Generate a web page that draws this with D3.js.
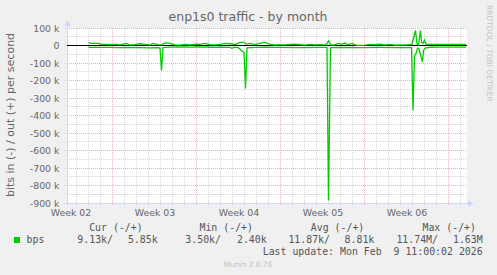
<!DOCTYPE html>
<html><head><meta charset="utf-8">
<script src="https://cdn.jsdelivr.net/npm/d3@7"></script>
<style>
body{margin:0;background:#F0F0F0;}
svg{display:block}
</style>
</head><body>
<svg id="c" width="497" height="275"></svg>
<script>
// ---------- data ----------
const title = "enp1s0 traffic - by month";
const yLabel = "bits in (-) / out (+) per second";
const yTicks = [100, 0, -100, -200, -300, -400, -500, -600, -700, -800, -900];
const weekLabels = ["Week 02", "Week 03", "Week 04", "Week 05", "Week 06"];
const domainStart = "2026-01-07T05:00:00Z";
const domainEnd = "2026-02-09T13:00:00Z";
const dataStart = "2026-01-09T00:00:00Z";

// hours after dataStart, values in kbit/s
const outHours = [0, 6, 21, 23, 55, 63, 76, 83, 93, 103, 113, 123, 129, 139, 146, 153, 163, 173, 183, 193, 203, 215, 223, 233, 243, 253, 263, 273, 283, 293, 303, 311, 315, 323, 333, 343, 353, 363, 373, 383, 393, 403, 413, 423, 433, 443, 453, 463, 475, 480, 485, 493, 499, 507, 513, 519, 527, 535, 543, 553, 563, 573, 583, 593, 603, 613, 623, 633, 643, 647, 650, 654, 657, 660, 664, 666, 669, 672, 675, 683, 703, 723, 743, 755];
const outVals  = [17, 12, 12, 7, 7, 4, 12, 3, 5, 10, 6, 3, 12, 5, 4, 15, 12, 4, 2, 6, 4, 7, 6, 12, 5, 4, 6, 12, 10, 5, 18, 18, 8, 12, 5, 14, 18, 6, 3, 5, 4, 6, 7, 5, 2, 6, 4, 5, 4, 26, 3, 4, 12, 8, 14, 4, 12, 2, 1, 2, 6, 5, 7, 3, 6, 2, 4, 3, 5, 8, 40, 86, 10, 2, 86, 20, 12, 30, 8, 7, 7, 7, 6, 6];

const inHours = [0, 23, 43, 61, 83, 103, 123, 139, 143, 146, 149, 163, 183, 203, 223, 243, 263, 283, 287, 291, 299, 305, 311, 314, 317, 333, 353, 383, 423, 463, 477, 480, 484, 503, 543, 583, 623, 646, 649, 652, 655, 658, 661, 668, 670, 673, 683, 703, 723, 755];
const inVals  = [11, 11, 11, 12, 11, 12, 13, 12, 14, 143, 12, 9, 8, 9, 8, 10, 10, 11, 16, 11, 11, 26, 40, 246, 14, 11, 10, 11, 12, 11, 11, 886, 12, 11, 12, 11, 12, 12, 371, 60, 45, 15, 20, 95, 30, 15, 10, 9, 9, 9];

const seriesName = "bps";
const legendHeaders = ["Cur (-/+)", "Min (-/+)", "Avg (-/+)", "Max (-/+)"];
const legendIn  = ["9.13k/", "3.50k/", "11.87k/", "11.74M/"];
const legendOut = ["5.85k", "2.40k", "8.81k", "1.63M"];
const lastUpdate = "Last update: Mon Feb  9 11:00:02 2026";
const footer = "Munin 2.0.76";
const watermark = "RRDTOOL / TOBI OETIKER";

// ---------- drawing ----------
const svg = d3.select("#c");
const L = 67, R = 467, T = 28, B = 203;
const green = "#00CC00", fontCol = "#666666", axisCol = "#CFD6F8";
const minorCol = "#d6d6d6", majorCol = "#eeb0b0";

svg.append("rect").attr("width", 497).attr("height", 275).attr("fill", "#F0F0F0");
svg.append("rect").attr("x", L).attr("y", T).attr("width", R - L).attr("height", B - T).attr("fill", "#FFFFFF");

const x = d3.scaleUtc().domain([new Date(domainStart), new Date(domainEnd)]).range([L, R]);
const y = d3.scaleLinear().domain([-900, 100]).range([B, T]);
const px = v => Math.floor(v) + 0.5;

// horizontal grid
const minorY = d3.range(-850, 100, 100);
const g = svg.append("g");
g.selectAll(".hm").data(minorY).join("line")
  .attr("x1", L - 2).attr("x2", R).attr("y1", d => px(y(d))).attr("y2", d => px(y(d)))
  .attr("stroke", minorCol).attr("stroke-dasharray", "1,1");
g.selectAll(".hM").data(yTicks).join("line")
  .attr("x1", L - 2).attr("x2", R).attr("y1", d => px(y(d))).attr("y2", d => px(y(d)))
  .attr("stroke", majorCol).attr("stroke-dasharray", "1,1");

// vertical grid
const days = d3.utcDay.range(x.domain()[0], x.domain()[1]).filter(d => d.getUTCDay() !== 0 && x(d) > L);
const sundays = d3.utcSunday.range(x.domain()[0], x.domain()[1]);
g.selectAll(".vm").data(days).join("line")
  .attr("x1", d => x(d)).attr("x2", d => x(d)).attr("y1", T).attr("y2", B + 2)
  .attr("stroke", minorCol).attr("stroke-dasharray", "1,1");
g.selectAll(".vM").data(sundays).join("line")
  .attr("x1", d => x(d)).attr("x2", d => x(d)).attr("y1", T).attr("y2", B + 3)
  .attr("stroke", majorCol).attr("stroke-dasharray", "1,1");

// y tick labels via axis
const yAxis = d3.axisLeft(y).tickValues(yTicks).tickSize(0).tickPadding(0)
  .tickFormat(v => v === 0 ? "0" : v + " k");
const ya = svg.append("g").attr("transform", `translate(${L - 7.5},0)`).call(yAxis);
ya.select(".domain").remove();
ya.selectAll("text").attr("font-family", "DejaVu Sans").attr("font-size", 9.4).attr("fill", fontCol);

// x labels (centered mid-week)
const labelDates = sundays.map(d => d3.utcHour.offset(d, -84));
const xAxis = d3.axisBottom(x).tickValues(labelDates).tickSize(0).tickPadding(0)
  .tickFormat((d, i) => weekLabels[i]);
const xa = svg.append("g").attr("transform", `translate(0,${B + 6})`).call(xAxis);
xa.select(".domain").remove();
xa.selectAll("text").attr("font-family", "DejaVu Sans").attr("font-size", 9.4).attr("fill", fontCol).attr("dy", "0.71em");

// axes lines + arrows
svg.append("line").attr("x1", L - 3).attr("x2", 470).attr("y1", B + 0.5).attr("y2", B + 0.5).attr("stroke", axisCol);
svg.append("line").attr("x1", L + 0.5).attr("x2", L + 0.5).attr("y1", B + 3).attr("y2", 24).attr("stroke", axisCol);
svg.append("path").attr("d", `M468,200 L473.5,203.5 L468,207 Z`).attr("fill", axisCol);
svg.append("path").attr("d", `M64,26 L67.5,20.5 L71,26 Z`).attr("fill", axisCol);

// zero line
svg.append("line").attr("x1", L).attr("x2", R).attr("y1", px(y(0))).attr("y2", px(y(0))).attr("stroke", "#000");

// series
const t0 = new Date(dataStart);
const outData = outHours.map((h, i) => ({t: d3.utcHour.offset(t0, h), v: outVals[i]}));
const inData = inHours.map((h, i) => ({t: d3.utcHour.offset(t0, h), v: -inVals[i]}));
const line = d3.line().x(d => x(d.t)).y(d => y(d.v));
svg.append("path").datum(inData).attr("d", line).attr("fill", "none").attr("stroke", green).attr("stroke-width", 1.3);
svg.append("path").datum(outData).attr("d", line).attr("fill", "none").attr("stroke", green).attr("stroke-width", 1.3);

// title & labels
svg.append("text").attr("x", 248).attr("y", 21).attr("text-anchor", "middle")
  .attr("font-family", "DejaVu Sans").attr("font-size", 12.5).attr("fill", fontCol).text(title);
svg.append("text").attr("transform", `translate(14,115) rotate(-90)`).attr("text-anchor", "middle")
  .attr("font-family", "DejaVu Sans").attr("font-size", 11).attr("fill", fontCol).text(yLabel);
svg.append("text").attr("transform", `translate(487,5) rotate(90)`).attr("text-anchor", "start")
  .attr("font-family", "DejaVu Sans").attr("font-size", 7.5).attr("fill", "#c4c4c4").text(watermark);

// legend
const mono = sel => sel.attr("font-family", "DejaVu Sans Mono").attr("font-size", 9.9).attr("fill", "#555");
const headEnds = [142.7, 253, 364.3, 476];
const inEnds = [113, 221, 330, 438];
const outEnds = [157.7, 266.7, 374.3, 482.7];
const lg = svg.append("g");
lg.selectAll(".h").data(legendHeaders).join("text").call(mono)
  .attr("x", (d, i) => headEnds[i]).attr("y", 230.5).attr("text-anchor", "end").text(d => d);
lg.selectAll(".i").data(legendIn).join("text").call(mono)
  .attr("x", (d, i) => inEnds[i]).attr("y", 243.3).attr("text-anchor", "end").text(d => d);
lg.selectAll(".o").data(legendOut).join("text").call(mono)
  .attr("x", (d, i) => outEnds[i]).attr("y", 243.3).attr("text-anchor", "end").text(d => d);
lg.append("rect").attr("x", 14).attr("y", 237).attr("width", 6).attr("height", 6).attr("fill", green);
lg.append("text").call(mono).attr("x", 26.5).attr("y", 243.3).text(seriesName);
lg.append("text").call(mono).attr("x", 482.7).attr("y", 255).attr("text-anchor", "end")
  .attr("xml:space", "preserve").style("white-space", "pre").text(lastUpdate);
svg.append("text").attr("x", 248).attr("y", 266.5).attr("text-anchor", "middle")
  .attr("font-family", "DejaVu Sans").attr("font-size", 7.4).attr("fill", "#c0c0c0").text(footer);
</script>
</body></html>
